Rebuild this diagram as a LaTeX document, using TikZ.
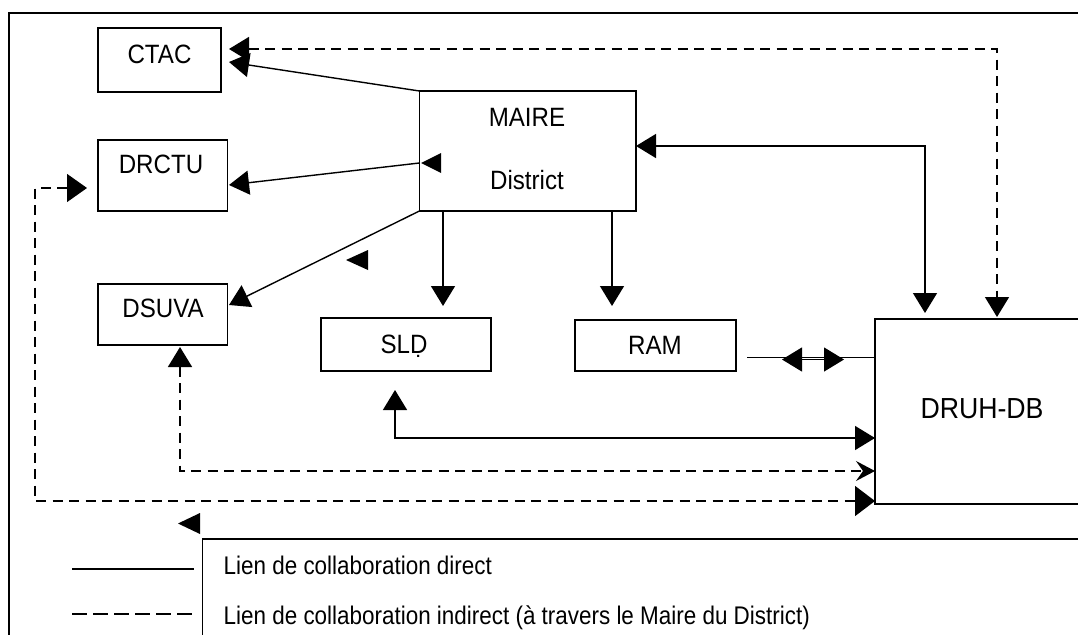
\documentclass[tikz,border=0pt]{standalone}
\usepackage{fontspec}
\setmainfont{Liberation Sans}
\newfontfamily\lblfont{Liberation Sans}[FakeStretch=0.91]
\newfontfamily\bigfont{Liberation Sans}[FakeStretch=0.92]
\newfontfamily\legfont{Liberation Sans}[FakeStretch=0.88]
\usetikzlibrary{arrows.meta}
\begin{document}
\begin{tikzpicture}[x=1pt,y=-1pt,line width=1.4pt,
  box/.style={draw,line width=1.4pt,inner sep=0pt,outer sep=0pt},
  lbl/.style={anchor=base,inner sep=0pt,font=\lblfont\fontsize{26.5}{30}\selectfont},
  legtext/.style={anchor=base west,inner sep=0pt,font=\legfont\fontsize{25.5}{30}\selectfont},
  >={Triangle[length=20pt,width=24pt]},
  dsh/.style={dash pattern=on 10pt off 6.5pt},
  legdsh/.style={dash pattern=on 15pt off 6pt}]
\useasboundingbox (0,0) rectangle (1078,634);
% outer frame
\draw[line width=1.8pt] (9,13) rectangle (1120,700);
% boxes
\node[box,minimum width=123pt,minimum height=64pt] (ctac) at (159.5,60) {};
\node[box,minimum width=129.6pt,minimum height=71pt] (drctu) at (162.8,175.5) {};
\node[box,minimum width=129.6pt,minimum height=61pt] (dsuva) at (162.8,314.5) {};
\node[box,minimum width=216.6pt,minimum height=120pt] (maire) at (527.7,151) {};
\node[box,minimum width=170pt,minimum height=53pt] (sld) at (406,344.5) {};
\node[box,minimum width=161pt,minimum height=51pt] (ram) at (655.5,345.5) {};
\node[box,minimum width=245pt,minimum height=185pt] (druh) at (997.5,411.5) {};
\node[box,minimum width=920pt,minimum height=160pt] (legend) at (662.5,619) {};
% labels
\node[lbl] (ctacT) at (159.5,63.3) {CTAC};
\node[lbl] (drctuT) at (161,173.5) {DRCTU};
\node[lbl] (dsuvaT) at (163,317.5) {DSUVA};
\node[lbl] (maireT1) at (527,126.5) {MAIRE};
\node[lbl] (maireT2) at (527,189.5) {District};
\node[lbl] (sldT) at (404,353.5) {SLḌ};
\node[lbl] (ramT) at (655,354.5) {RAM};
\node[lbl,font=\bigfont\fontsize{29}{33}\selectfont] (druhT) at (982,418.3) {DRUH-DB};
\node[legtext] (leg1) at (223,574.5) {Lien de collaboration direct};
\node[legtext] (leg2) at (223,624) {Lien de collaboration indirect (à travers le Maire du District)};
% connector end points
\coordinate (ctacIn1) at (229,62);
\coordinate (ctacIn2) at (229,49);
\coordinate (maireW) at (419.4,163);
\coordinate (drctuIn) at (229,185);
\coordinate (dsuvaIn) at (229,305);
\coordinate (maireS1) at (443,211);
\coordinate (sldIn) at (443,306);
\coordinate (maireS2) at (612,211);
\coordinate (ramIn) at (612,306);
\coordinate (maireE) at (636,146);
\coordinate (druhN1) at (925,313);
\coordinate (druhN2) at (997,317);
\coordinate (ramOut) at (747,357.5);
\coordinate (druhR) at (875,357.5);
\coordinate (ramA1) at (782,359.5);
\coordinate (ramA2) at (844,359.5);
\coordinate (sldOut) at (395,390);
\coordinate (druhW1) at (875,438);
\coordinate (dsuvaOut) at (180,347);
\coordinate (druhW2) at (875,471);
\coordinate (drctuOut) at (87,188);
\coordinate (dtBend) at (35,188);
\coordinate (druhW3) at (875,501);
% direct links
\draw[->] (maire.north west) -- (ctacIn1);
\draw[->] (maireW) -- (drctuIn);
\draw[->] (maire.south west) -- (dsuvaIn);
\draw[->] (maireS1) -- (sldIn);
\draw[->] (maireS2) -- (ramIn);
\draw[<->] (maireE) -| (druhN1);
\draw (ramOut) -- (druhR);
\draw[<->,line width=1.2pt] (ramA1) -- (ramA2);
\draw[<->] (sldOut) |- (druhW1);
% indirect links
\draw[dsh,<->] (ctacIn2) -| (druhN2);
\draw[dsh,{Triangle[length=20pt,width=24pt]}-{Stealth[length=19pt,width=20pt,inset=7pt]}] (dsuvaOut) |- (druhW2);
\draw[dsh,{Triangle[length=20pt,width=28pt]}-{Triangle[length=20pt,width=30pt]}] (drctuOut) -- (dtBend) |- (druhW3);
% stray arrowheads
\fill (421,163) -- (441,153) -- (441,173) -- cycle;
\fill (346,260) -- (368,250) -- (368,270) -- cycle;
\fill (178,523.5) -- (200,513) -- (200,534) -- cycle;
% legend samples
\draw (72,569) -- (193.5,569);
\draw[legdsh] (72,614) -- (193.5,614);
\end{tikzpicture}
\end{document}
